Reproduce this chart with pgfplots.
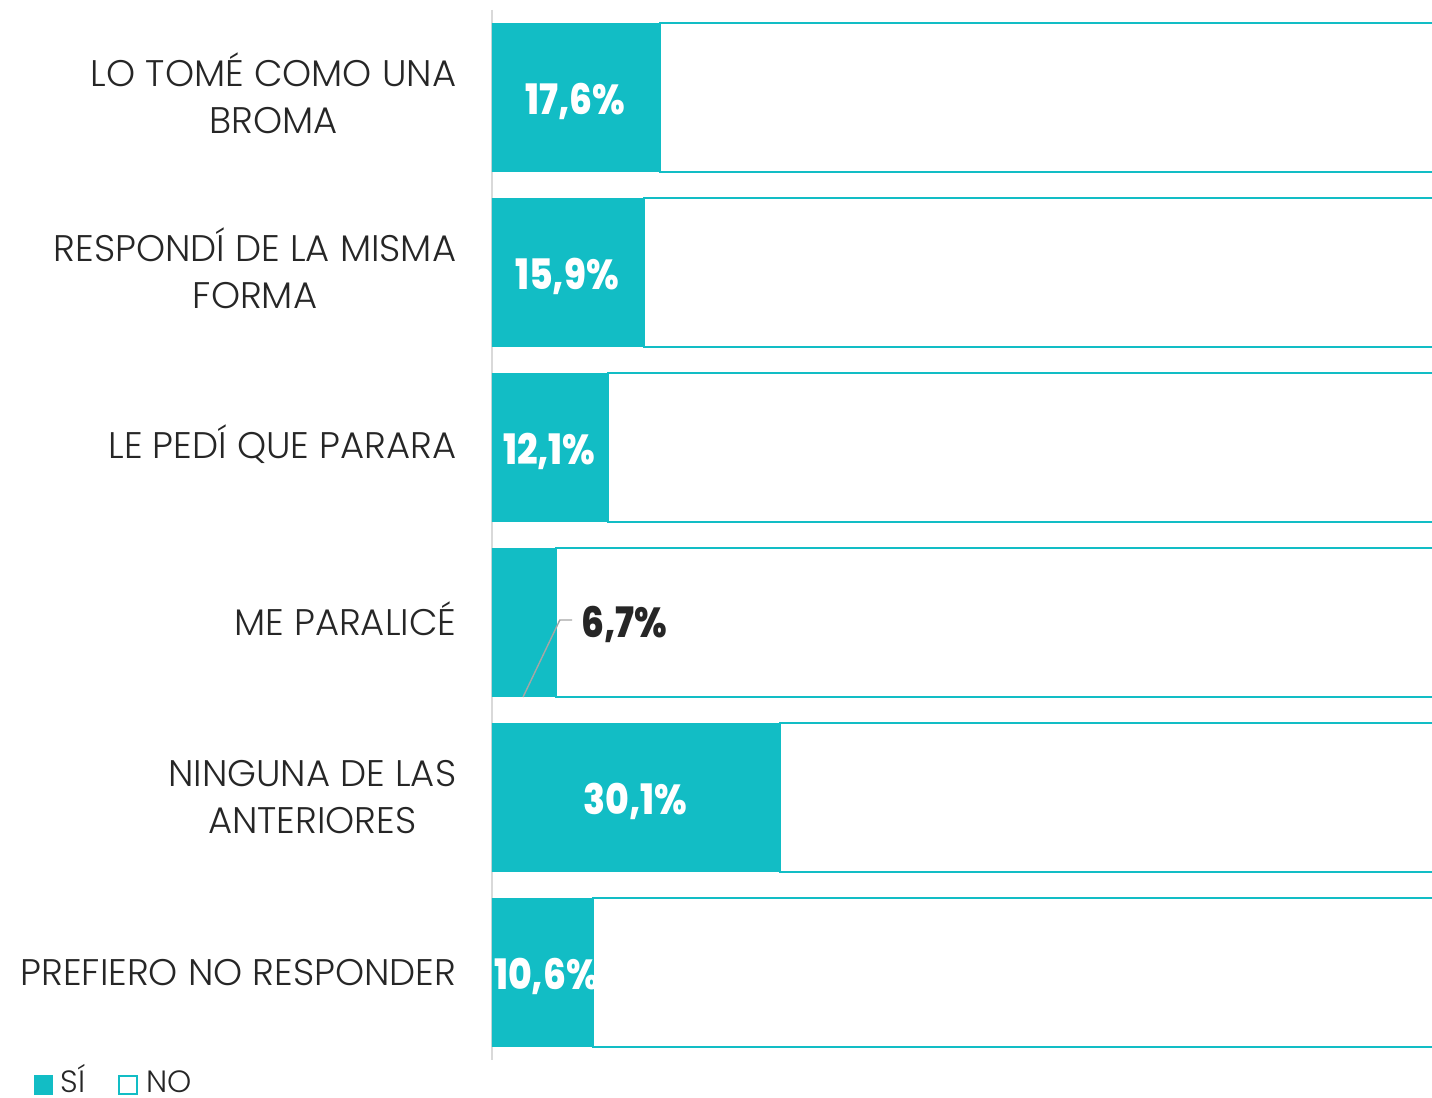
\documentclass[border=0pt]{standalone}
\usepackage{pgfplots}
\pgfplotsset{compat=1.18}
\usepackage{fontspec}
\IfFontExistsTF{Poppins Light}{\setmainfont{Poppins Light}[BoldFont=Poppins Bold]}{\setmainfont{Poppins}}
\IfFontExistsTF{Poppins ExtraBold}
  {\newfontfamily\lblfont{Poppins ExtraBold}[FakeStretch=0.86]}
  {\newfontfamily\lblfont{Poppins Bold}[FakeStretch=0.86]}
\definecolor{si}{RGB}{18,189,197}
\definecolor{txt}{RGB}{38,38,38}
\definecolor{axgray}{RGB}{217,217,217}
\tikzset{
  barlbl/.style={font=\fontsize{10.5}{12}\selectfont\lblfont, text=white},
}

\begin{document}
\begin{tikzpicture}
% page = 1432 x 1098 px, 1px = 0.25pt; axis lower left at px (492,1060)
\useasboundingbox (-123pt,-9.5pt) rectangle (235pt,265pt);
\begin{axis}[
  at={(0pt,0pt)}, anchor=south west, scale only axis,
  width=235pt, height=262.5pt,
  xbar stacked, bar width=0.851,
  xmin=0, xmax=98.4,
  ymin=-0.5, ymax=5.5, y dir=reverse,
  axis x line=none,
  axis y line*=left,
  y axis line style={axgray, line width=0.5pt},
  ytick={0,1,2,3,4,5},
  yticklabels={{LO TOM\smash{É} COMO UNA\\BROMA},{RESPOND\smash{Í} DE LA MISMA\\FORMA},
    {LE PED\smash{Í} QUE PARARA},{ME PARALIC\smash{É}},{NINGUNA DE LAS\\ANTERIORES},
    {PREFIERO NO RESPONDER}},
  major tick length=0pt,
  yticklabel style={font=\fontsize{9.25}{11.75}\selectfont, align=center,
    text=txt, inner sep=0pt, anchor=east, xshift=-8.75pt},
  legend style={at={(-0.4883,-0.0238)}, anchor=west, draw=none,
    fill=none, inner xsep=0pt, inner ysep=0pt, legend columns=2,
    font=\fontsize{7.7}{9}\selectfont, text=txt,
    /tikz/every even column/.append style={column sep=6pt}},
  legend image code/.code={\draw[#1, line width=0.5pt]
    (0pt,-2.3pt) rectangle (4.6pt,2.3pt);},
  legend cell align=left,
]
\addplot[fill=si, draw=none,
  legend image code/.code={\fill[si] (0pt,-2.4pt) rectangle (4.8pt,2.4pt);}]
  coordinates {(17.6,0) (15.9,1) (12.1,2) (6.7,3) (30.1,4) (10.6,5)};
\addlegendentry{S\smash{Í}}
\addplot[fill=white, draw=si, line width=0.5pt] coordinates {
  (82.4,0) (84.1,1) (87.9,2) (93.3,3) (69.9,4) (89.4,5)};
\addlegendentry{NO}

% label anchors, drawn after the axis so the bars do not cover them
\coordinate (l0) at (axis cs:8.7,0.02);
\coordinate (l1) at (axis cs:7.85,1.02);
\coordinate (l2) at (axis cs:6.0,2.02);
\coordinate (l4) at (axis cs:15.0,4.02);
\coordinate (l5) at (axis cs:5.7,5.02);
\coordinate (c0) at (axis cs:3.25,3.426);
\coordinate (c1) at (axis cs:7.1,2.986);
\coordinate (c2) at (axis cs:8.4,2.986);
\coordinate (l3) at (axis cs:9.3,3.01);
\end{axis}
\node[barlbl] at (l0) {17,6\%};
\node[barlbl] at (l1) {15,9\%};
\node[barlbl] at (l2) {12,1\%};
\node[barlbl] at (l4) {30,1\%};
\node[barlbl] at (l5) {10,6\%};
\draw[gray!70, line width=0.35pt] (c0) -- (c1) -- (c2);
\node[barlbl, anchor=west, inner sep=0pt, text=txt] at (l3) {6,7\%};
\end{tikzpicture}
\end{document}
